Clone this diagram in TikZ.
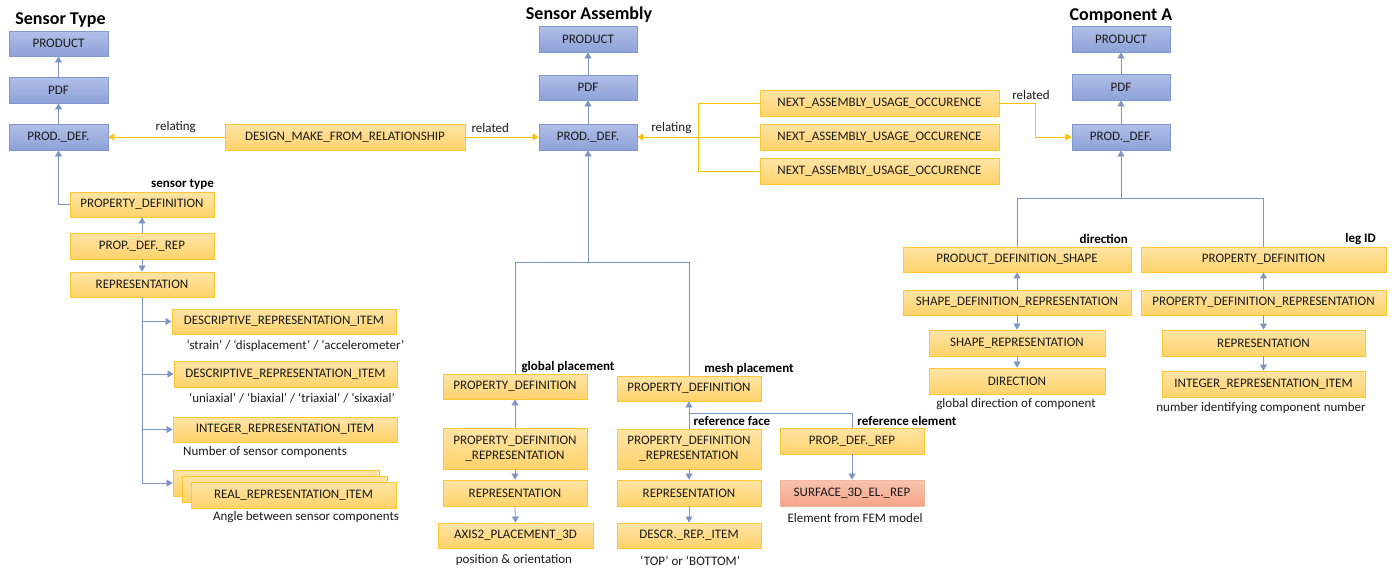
\documentclass[tikz,border=0pt]{standalone}
\usepackage{fontspec}
\setmainfont{Carlito}
\usetikzlibrary{arrows.meta}
\definecolor{bfillT}{HTML}{B1BFE8}
\definecolor{bfillB}{HTML}{8DA2D8}
\definecolor{bdraw}{HTML}{8397CF}
\definecolor{ofillT}{HTML}{FFE4A6}
\definecolor{ofillB}{HTML}{FFD36B}
\definecolor{odraw}{HTML}{FFC730}
\definecolor{sfillT}{HTML}{F8C4AE}
\definecolor{sfillB}{HTML}{F3A489}
\definecolor{sdraw}{HTML}{F4B59C}
\definecolor{lblue}{HTML}{7E93C6}
\definecolor{lorange}{HTML}{FFC000}
\definecolor{txt}{HTML}{1A1A1A}
\begin{document}
\begin{tikzpicture}[x=1pt,y=-1pt,
  box/.style={rectangle, inner sep=0pt, line width=0.9pt, text=txt,
    font=\fontsize{13}{15}\selectfont, align=center},
  bbox/.style={box, draw=bdraw, top color=bfillT, bottom color=bfillB},
  obox/.style={box, draw=odraw, top color=ofillT, bottom color=ofillB},
  sbox/.style={box, draw=sdraw, top color=sfillT, bottom color=sfillB},
  title/.style={font=\fontsize{18}{21}\selectfont\bfseries, text=black, inner sep=0pt},
  blbl/.style={font=\fontsize{13}{15}\selectfont\bfseries, text=black, inner sep=0pt},
  lbl/.style={font=\fontsize{13}{15}\selectfont, text=txt, inner sep=0pt},
  bline/.style={draw=lblue, line width=0.8pt},
  barrow/.style={bline, -{Triangle[length=6pt,width=7pt]}},
  oline/.style={draw=lorange, line width=0.8pt},
  oarrow/.style={oline, -{Triangle[length=6pt,width=7pt]}}
]
\useasboundingbox (0,0) rectangle (1394,573);

% ---------- Sensor Type ----------
\node[title] (tST) at (60.5,20.5) {Sensor Type};
\node[bbox, minimum width=99pt, minimum height=25pt] (stP) at (58.5,43.5) {PRODUCT};
\node[bbox, minimum width=99pt, minimum height=26pt] (stF) at (58.5,90) {PDF};
\node[bbox, minimum width=99pt, minimum height=26pt] (stD) at (58.5,137) {PROD.\_DEF.};
\node[obox, minimum width=144pt, minimum height=25pt] (stPD) at (142,204.5) {PROPERTY\_DEFINITION};
\node[blbl, anchor=east] (lST) at (214,184) {sensor type};
\node[obox, minimum width=144pt, minimum height=26pt] (stPDR) at (142,246) {PROP.\_DEF.\_REP};
\node[obox, minimum width=144pt, minimum height=25pt] (stR) at (142,284.5) {REPRESENTATION};
\node[obox, minimum width=224pt, minimum height=25pt] (dri1) at (284,321.5) {DESCRIPTIVE\_REPRESENTATION\_ITEM};
\node[lbl] (l1) at (295.5,346) {‘strain’ / ‘displacement’ / ‘accelerometer’};
\node[obox, minimum width=223pt, minimum height=26pt] (dri2) at (285.5,374) {DESCRIPTIVE\_REPRESENTATION\_ITEM};
\node[lbl] (l2) at (292,398) {‘uniaxial’ / ‘biaxial’ / ‘triaxial’ / ‘sixaxial’};
\node[obox, minimum width=224pt, minimum height=25pt] (iri) at (285,429.5) {INTEGER\_REPRESENTATION\_ITEM};
\node[lbl, anchor=west] (l3) at (183,452) {Number of sensor components};
\node[obox, minimum width=206pt, minimum height=26pt] (rriB) at (276,483) {};
\node[obox, minimum width=205pt, minimum height=26pt] (rriM) at (284.5,489) {};
\node[obox, minimum width=205pt, minimum height=26pt] (rriF) at (293.5,495) {REAL\_REPRESENTATION\_ITEM};
\node[lbl] (l4) at (306,517) {Angle between sensor components};
\node[obox, minimum width=240pt, minimum height=26pt] (dmfr) at (345,137) {DESIGN\_MAKE\_FROM\_RELATIONSHIP};

\draw[barrow] (stF.north) -- (stP.south);
\draw[barrow] (stD.north) -- (stF.south);
\draw[barrow] (stPD.west) -| (stD.south);
\draw[barrow] (stPDR.north) -- (stPD.south);
\draw[barrow] (stPDR.south) -- (stR.north);
\draw[barrow] (stR.south) |- (dri1.west);
\draw[barrow] (stR.south) |- (dri2.west);
\draw[barrow] (stR.south) |- (iri.west);
\draw[barrow] (stR.south) |- (rriB.west);
\draw[oarrow] (dmfr.west) -- node[lbl, above=4pt, pos=0.42] (lrel1) {relating} (stD.east);

% ---------- Sensor Assembly ----------
\node[title] (tSA) at (589,15) {Sensor Assembly};
\node[bbox, minimum width=98pt, minimum height=26pt] (saP) at (588,39) {PRODUCT};
\node[bbox, minimum width=98pt, minimum height=25pt] (saF) at (588,87.5) {PDF};
\node[bbox, minimum width=98pt, minimum height=26pt] (saD) at (588,137) {PROD.\_DEF.};
\node[obox, minimum width=239pt, minimum height=26pt] (nauo1) at (879.5,103) {NEXT\_ASSEMBLY\_USAGE\_OCCURENCE};
\node[obox, minimum width=239pt, minimum height=26pt] (nauo2) at (879.5,137) {NEXT\_ASSEMBLY\_USAGE\_OCCURENCE};
\node[obox, minimum width=239pt, minimum height=26pt] (nauo3) at (879.5,171) {NEXT\_ASSEMBLY\_USAGE\_OCCURENCE};

\draw[barrow] (saF.north) -- (saP.south);
\draw[barrow] (saD.north) -- (saF.south);
\draw[oarrow] (dmfr.east) -- node[lbl, above=4pt, pos=0.34] (lrel2) {related} (saD.west);

\coordinate (nJ) at (698,137);
\draw[oline] (nauo1.west) -| (nJ);
\draw[oline] (nauo3.west) -| (nJ);
\draw[oline] (nauo2.west) -- (nJ);
\draw[oarrow] (nJ) -- node[lbl, above=3pt, pos=0.44] (lrel3) {relating} (saD.east);

\node[blbl] (lgp) at (568,367) {global placement};
\node[obox, minimum width=144pt, minimum height=25pt] (gPD) at (515,386.5) {PROPERTY\_DEFINITION};
\node[obox, minimum width=144pt, minimum height=41pt] (gPDR) at (515,448.5) {PROPERTY\_DEFINITION\\\_REPRESENTATION};
\node[obox, minimum width=144pt, minimum height=26pt] (gR) at (515,493) {REPRESENTATION};
\node[obox, minimum width=155pt, minimum height=25pt] (gA) at (515.5,535.5) {AXIS2\_PLACEMENT\_3D};
\node[lbl] (l5) at (514,560) {position \& orientation};

\node[blbl] (lmp) at (749,369) {mesh placement};
\node[obox, minimum width=144pt, minimum height=25pt] (mPD) at (689,388.5) {PROPERTY\_DEFINITION};
\node[obox, minimum width=144pt, minimum height=40pt] (mPDR) at (689,449) {PROPERTY\_DEFINITION\\\_REPRESENTATION};
\node[obox, minimum width=144pt, minimum height=26pt] (mR) at (689,493) {REPRESENTATION};
\node[obox, minimum width=144pt, minimum height=25pt] (mDI) at (689,535.5) {DESCR.\_REP.\_ITEM};
\node[lbl] (l6) at (690,561) {‘TOP’ or ‘BOTTOM’};
\node[blbl] (lrf) at (732,421) {reference face};
\node[blbl] (lre) at (907,421) {reference element};
\node[obox, minimum width=144pt, minimum height=26pt] (mPDREP) at (852,441) {PROP.\_DEF.\_REP};
\node[sbox, minimum width=144pt, minimum height=26pt] (mS) at (852,493) {SURFACE\_3D\_EL.\_REP};
\node[lbl] (l7) at (855,518) {Element from FEM model};

\coordinate (saJ) at (588,262);
\draw[barrow] (saJ) -- (saD.south);
\draw[bline] (gPD.north) |- (saJ);
\draw[bline] (mPD.north) |- (saJ);
\draw[barrow] (gPDR.north) -- (gPD.south);
\draw[barrow] (gPDR.south) -- (gR.north);
\draw[barrow] (gR.south) -- (gA.north);
\coordinate (mJ) at (689,413);
\draw[bline] (mPDREP.north) |- (mJ);
\draw[barrow] (mPDR.north) -- (mPD.south);
\draw[barrow] (mPDR.south) -- (mR.north);
\draw[barrow] (mR.south) -- (mDI.north);
\draw[barrow] (mPDREP.south) -- (mS.north);

% ---------- Component A ----------
\node[title] (tCA) at (1121,16) {Component A};
\node[bbox, minimum width=98pt, minimum height=26pt] (caP) at (1121,39) {PRODUCT};
\node[bbox, minimum width=98pt, minimum height=26pt] (caF) at (1121,87) {PDF};
\node[bbox, minimum width=98pt, minimum height=26pt] (caD) at (1121,137) {PROD.\_DEF.};
\draw[barrow] (caF.north) -- (caP.south);
\draw[barrow] (caD.north) -- (caF.south);
\coordinate (rJ) at (1035,103);
\draw[oarrow] (nauo1.east) -- (rJ) |- (caD.west);
\node[lbl] (lrel4) at (1031,95) {related};

\node[blbl, anchor=east] (ldir) at (1128,239) {direction};
\node[blbl, anchor=east] (lleg) at (1376,239) {leg ID};
\node[obox, minimum width=228pt, minimum height=25pt] (pds) at (1017,259.5) {PRODUCT\_DEFINITION\_SHAPE};
\node[obox, minimum width=245pt, minimum height=25pt] (cPD) at (1263.5,259.5) {PROPERTY\_DEFINITION};
\node[obox, minimum width=228pt, minimum height=25pt] (sdr) at (1017,302.5) {SHAPE\_DEFINITION\_REPRESENTATION};
\node[obox, minimum width=245pt, minimum height=25pt] (cPDR) at (1263.5,302.5) {PROPERTY\_DEFINITION\_REPRESENTATION};
\node[obox, minimum width=176pt, minimum height=26pt] (sr) at (1017,343) {SHAPE\_REPRESENTATION};
\node[obox, minimum width=176pt, minimum height=26pt] (dir) at (1017,381) {DIRECTION};
\node[lbl] (l8) at (1016,404) {global direction of component};
\node[obox, minimum width=203pt, minimum height=26pt] (cR) at (1263.5,343) {REPRESENTATION};
\node[obox, minimum width=203pt, minimum height=26pt] (cIRI) at (1263.5,384) {INTEGER\_REPRESENTATION\_ITEM};
\node[lbl] (l9) at (1261,408) {number identifying component number};

\coordinate (caJ) at (1121,198);
\draw[barrow] (caJ) -- (caD.south);
\draw[bline] (pds.north) |- (caJ);
\draw[bline] (cPD.north) |- (caJ);
\draw[barrow] (sdr.north) -- (pds.south);
\draw[barrow] (sdr.south) -- (sr.north);
\draw[barrow] (sr.south) -- (dir.north);
\draw[barrow] (cPDR.north) -- (cPD.south);
\draw[barrow] (cPDR.south) -- (cR.north);
\draw[barrow] (cR.south) -- (cIRI.north);
\end{tikzpicture}
\end{document}
